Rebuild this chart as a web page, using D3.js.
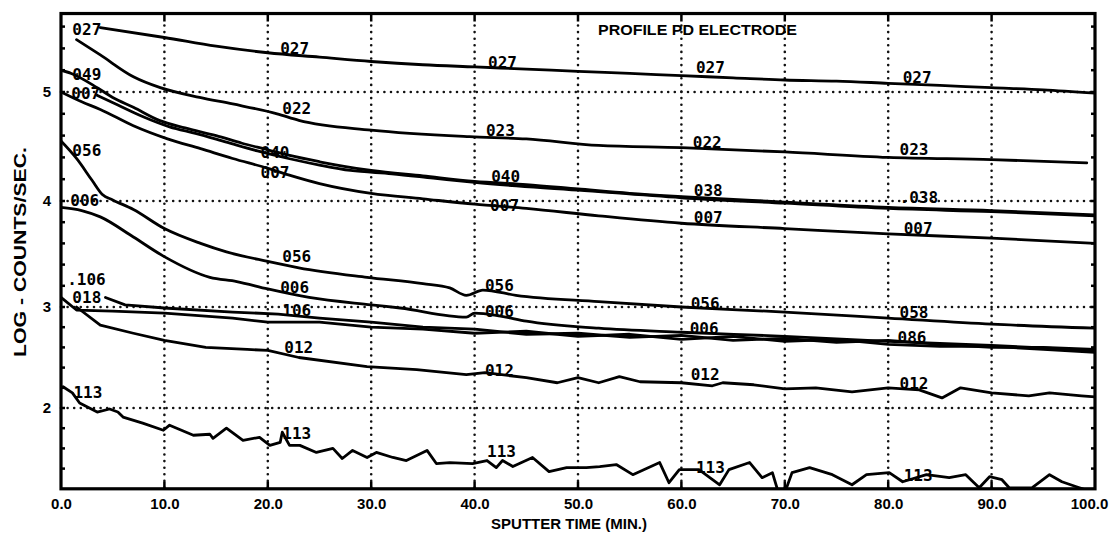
<!DOCTYPE html>
<html>
<head>
<meta charset="utf-8">
<script src="https://cdn.jsdelivr.net/npm/d3@7"></script>
<style>
body{margin:0;background:#fff}
svg{display:block}
</style>
</head>
<body>
<script>
// [sputter time (min), log counts/sec]
const s027=[[3.8,5.59],[10,5.50],[15,5.42],[20,5.36],[25,5.32],[30,5.28],[35,5.25],[40,5.23],[45,5.21],[50,5.19],[55,5.17],[60,5.15],[65,5.13],[70,5.11],[75,5.10],[80,5.08],[85,5.06],[90,5.04],[95,5.02],[100,4.99]]
const s023=[[1.5,5.48],[3.8,5.34],[7,5.14],[9.6,5.04],[13.4,4.95],[16.6,4.89],[20.9,4.80],[23,4.74],[30,4.65],[39.5,4.59],[45,4.57],[52,4.51],[60,4.49],[70,4.45],[80,4.40],[90,4.38],[99.2,4.35]]
const s040=[[0,5.20],[1,5.17],[3.5,5.04],[5,4.95],[7,4.86],[9.5,4.74],[12,4.67],[15,4.60],[17.5,4.53],[20,4.47],[22,4.42],[25,4.36],[30,4.28],[35,4.23],[40,4.18],[45,4.15],[50,4.11],[55,4.07],[60,4.04],[70,3.99],[80,3.94],[90,3.91],[100,3.87]]
const s038=[[3.5,4.97],[5.5,4.88],[8,4.77],[10.5,4.68],[13,4.62],[16,4.54],[19,4.46],[22,4.39],[25,4.33],[28,4.28],[32,4.25],[36,4.21],[40,4.17],[50,4.10],[60,4.03],[70,3.98],[80,3.93],[90,3.90],[100,3.86]]
const s007=[[0,5.00],[2,4.91],[3.8,4.84],[7,4.69],[10.3,4.57],[13.5,4.48],[16.6,4.39],[20,4.30],[22,4.24],[25,4.16],[30,4.07],[35,4.02],[40,3.97],[45,3.93],[52,3.86],[60,3.79],[70,3.74],[80,3.69],[90,3.65],[100,3.60]]
const s056=[[0,4.55],[1.5,4.39],[3,4.19],[4,4.06],[5,4.01],[7,3.92],[10,3.74],[13.5,3.60],[16,3.52],[20,3.43],[23,3.37],[29.6,3.28],[35,3.22],[37.6,3.18],[39.2,3.11],[40.8,3.16],[44,3.11],[52,3.05],[60,3.00],[70,2.95],[80,2.89],[90,2.83],[100,2.79]]
const s006=[[0,3.94],[2,3.91],[3.8,3.85],[7,3.66],[9.9,3.48],[14.4,3.28],[17,3.24],[20,3.17],[24,3.09],[30,3.02],[32.8,2.99],[39.2,2.90],[40,2.94],[42.5,2.91],[45,2.86],[52,2.79],[60,2.75],[70,2.71],[80,2.66],[90,2.62],[100,2.57]]
const s106=[[4.3,3.09],[6.2,3.02],[10,2.99],[16.6,2.95],[21,2.93],[25,2.89],[30,2.85],[35,2.80],[40,2.78],[45,2.73],[50,2.74],[55,2.70],[60,2.72],[65,2.67],[70,2.69],[75,2.65],[80,2.67],[85,2.63],[90,2.60],[95,2.60],[100,2.58]]
const s106b=[[0,3.09],[1.5,2.97],[5,2.96],[10,2.94],[16.6,2.89],[20,2.85],[25,2.85],[30,2.80],[35,2.78],[40,2.74],[45,2.76],[50,2.71],[55,2.73],[60,2.68],[65,2.71],[70,2.66],[75,2.68],[80,2.63],[85,2.61],[90,2.61],[95,2.58],[100,2.55]]
const s012=[[1.5,3.00],[3.8,2.82],[7,2.74],[10,2.67],[14,2.60],[18,2.58],[20,2.57],[23,2.50],[29.6,2.41],[34.4,2.38],[39.2,2.33],[41,2.35],[45,2.30],[48,2.25],[50,2.30],[52,2.25],[54,2.31],[56,2.26],[60,2.25],[63,2.22],[64,2.25],[67,2.23],[70,2.19],[73,2.20],[76.5,2.16],[80,2.20],[83,2.18],[85.2,2.10],[87,2.20],[90,2.15],[93.6,2.12],[95.6,2.15],[98.7,2.12],[100,2.11]]
const s113=[[0.2,2.21],[1.1,2.15],[1.8,2.05],[3.5,1.96],[4.7,1.99],[5.5,1.96],[6.0,1.91],[7.9,1.85],[9.9,1.78],[10.5,1.83],[12.8,1.73],[14.4,1.74],[14.7,1.70],[16.0,1.80],[17.6,1.68],[19.2,1.71],[20.2,1.63],[21.2,1.66],[21.4,1.76],[22.1,1.63],[23.1,1.63],[24.7,1.56],[26.3,1.60],[27.2,1.50],[28.2,1.58],[29.6,1.51],[30.5,1.56],[32.1,1.51],[33.4,1.48],[35.4,1.58],[36.3,1.45],[37.6,1.46],[39.8,1.45],[41.2,1.48],[42.1,1.41],[42.7,1.48],[43.7,1.42],[45.6,1.51],[47.2,1.37],[48.9,1.41],[50.8,1.41],[52.1,1.42],[53.7,1.44],[55.3,1.34],[57.9,1.46],[58.8,1.26],[59.8,1.39],[61.7,1.39],[63.7,1.24],[64.6,1.39],[66.6,1.46],[67.8,1.31],[68.8,1.36],[69.3,1.19],[70.1,1.19],[70.7,1.36],[72.4,1.41],[74.6,1.34],[76.5,1.24],[77.9,1.34],[80.1,1.36],[81.4,1.27],[83.7,1.34],[85.9,1.31],[87.5,1.34],[88.8,1.21],[89.8,1.32],[91.0,1.29],[91.7,1.21],[93.9,1.21],[95.6,1.34],[96.8,1.27],[98.2,1.22],[99.1,1.19]]

// mass labels written along the traces: [text, time, log counts]
const lineLabels=[
	["027",1.1,5.52],["049",1.1,5.11],["007",1.0,4.94],["056",1.1,4.41],["006",0.9,3.95],[".106",0.6,3.21],["018",1.1,3.04],["113",1.2,2.10],
	["027",21.2,5.35],["022",21.4,4.80],["040",19.3,4.39],["007",19.3,4.21],["056",21.4,3.42],["006",21.2,3.13],["106",21.4,2.91],["012",21.6,2.54],["113",21.4,1.69],
	["027",41.3,5.22],["023",41.1,4.60],["040",41.6,4.17],["007",41.5,3.91],["056",41.0,3.15],["006",41.0,2.90],["012",41.0,2.32],["113",41.2,1.51],
	["027",61.4,5.17],["022",61.1,4.49],["038",61.2,4.05],["007",61.2,3.79],["056",60.9,2.98],["006",60.8,2.73],["012",60.9,2.28],["113",61.4,1.36],
	["027",81.4,5.08],["023",81.1,4.42],[".038",81.1,3.98],["007",81.5,3.69],["058",81.1,2.89],["086",80.9,2.64],["012",81.1,2.19],["113",81.5,1.28]
]

const xTicks=[0,10,20,30,40,50,60,70,80,90,100]
const yTicks=[2,3,4,5]
const xMin=0,xMax=100,yMin=1.2,yMax=5.72

const width=1113,height=533
const axisFont='"Liberation Sans", Arial, sans-serif'

const svg=d3.select('body').append('svg')
	.attr('width',width)
	.attr('height',height)
	.style('background','#fff')

let x=d3.scaleLinear().domain([xMin,xMax]).range([61,1095])
// the chart's decades are not evenly spaced on the paper
let y=d3.scaleLinear().domain([2,3,4,5]).range([408,307,201,92])

const pTop=y(yMax),pBottom=y(yMin),pLeft=x(xMin),pRight=x(xMax)

svg.append('clipPath').attr('id','plot')
	.append('rect')
	.attr('x',pLeft).attr('y',pTop)
	.attr('width',pRight-pLeft).attr('height',pBottom-pTop)

// dotted grid
const grid=svg.append('g')
	.attr('stroke','#111')
	.attr('stroke-width',2.6)
	.attr('stroke-linecap','round')
	.attr('stroke-dasharray','0,6.6')
grid.selectAll('.vg')
	.data(xTicks.slice(1,-1))
	.join('line')
	.attr('x1',d=>x(d)).attr('x2',d=>x(d))
	.attr('y1',pTop+12).attr('y2',pBottom)
grid.selectAll('.hg')
	.data(yTicks)
	.join('line')
	.attr('x1',pLeft).attr('x2',pRight)
	.attr('y1',d=>y(d)).attr('y2',d=>y(d))

// small ticks on the frame
const ticks=svg.append('g').attr('stroke','#000').attr('stroke-width',2.5)
ticks.selectAll('.tt')
	.data(xTicks.slice(1,-1))
	.join('line')
	.attr('x1',d=>x(d)).attr('x2',d=>x(d))
	.attr('y1',pTop).attr('y2',pTop+8)
ticks.selectAll('.bt')
	.data(xTicks.slice(1,-1))
	.join('line')
	.attr('x1',d=>x(d)).attr('x2',d=>x(d))
	.attr('y1',pBottom).attr('y2',pBottom-7)
const minor=d3.range(1.4,5.7,0.2)
ticks.selectAll('.lt')
	.data(minor)
	.join('line')
	.attr('x1',pLeft).attr('x2',pLeft+4)
	.attr('y1',d=>y(d)).attr('y2',d=>y(d))
ticks.selectAll('.rt')
	.data(minor)
	.join('line')
	.attr('x1',pRight).attr('x2',pRight-4)
	.attr('y1',d=>y(d)).attr('y2',d=>y(d))

// traces
const smooth=d3.line().x(d=>x(d[0])).y(d=>y(d[1])).curve(d3.curveMonotoneX)
const rough=d3.line().x(d=>x(d[0])).y(d=>y(d[1]))

const series=[
	{pts:s027,line:smooth},{pts:s023,line:smooth},{pts:s040,line:smooth},{pts:s038,line:smooth},
	{pts:s007,line:smooth},{pts:s056,line:smooth},{pts:s006,line:smooth},{pts:s106,line:rough},
	{pts:s106b,line:rough},{pts:s012,line:rough},{pts:s113,line:rough}
]

svg.append('g')
	.attr('clip-path','url(#plot)')
	.attr('fill','none')
	.attr('stroke','#000')
	.attr('stroke-width',2.8)
	.attr('stroke-linejoin','round')
	.attr('stroke-linecap','round')
	.selectAll('path')
	.data(series)
	.join('path')
	.attr('d',d=>d.line(d.pts))

svg.append('g')
	.attr('font-family','"DejaVu Sans Mono", monospace')
	.attr('font-weight','bold')
	.attr('font-size',16)
	.attr('fill','#000')
	.selectAll('text')
	.data(lineLabels)
	.join('text')
	.attr('x',d=>x(d[1]))
	.attr('y',d=>y(d[2]))
	.text(d=>d[0])

// frame
svg.append('rect')
	.attr('x',pLeft).attr('y',pTop)
	.attr('width',pRight-pLeft).attr('height',pBottom-pTop)
	.attr('fill','none')
	.attr('stroke','#000')
	.attr('stroke-width',3.2)

let xAxis=d3.axisBottom(x)
	.tickValues(xTicks)
	.tickFormat(d3.format('.1f'))
	.tickSize(0)
	.tickPadding(10)
let yAxis=d3.axisLeft(y)
	.tickValues(yTicks)
	.tickFormat(d3.format('d'))
	.tickSize(0)
	.tickPadding(10)

svg.append('g')
	.attr('transform',`translate(0,${pBottom})`)
	.call(xAxis)
	.call(g=>g.select('.domain').remove())
	.selectAll('text')
	.attr('font-family',axisFont)
	.attr('font-weight','bold')
	.attr('font-size',15)
	.attr('fill','#000')
	.attr('dx',d=>d===xMax?-6:0)

svg.append('g')
	.attr('transform',`translate(${pLeft},0)`)
	.call(yAxis)
	.call(g=>g.select('.domain').remove())
	.selectAll('text')
	.attr('font-family',axisFont)
	.attr('font-weight','bold')
	.attr('font-size',15)
	.attr('fill','#000')

svg.append('text')
	.attr('x',569).attr('y',529)
	.attr('text-anchor','middle')
	.attr('font-family',axisFont)
	.attr('font-weight','bold')
	.attr('font-size',15)
	.text('SPUTTER TIME (MIN.)')

svg.append('text')
	.attr('transform','translate(26,252) rotate(-90)')
	.attr('text-anchor','middle')
	.attr('font-family',axisFont)
	.attr('font-weight','bold')
	.attr('font-size',16.5)
	.attr('textLength',210)
	.attr('lengthAdjust','spacingAndGlyphs')
	.text('LOG - COUNTS/SEC.')

svg.append('text')
	.attr('x',598).attr('y',35)
	.attr('font-family',axisFont)
	.attr('font-weight','bold')
	.attr('font-size',15.5)
	.attr('textLength',199)
	.attr('lengthAdjust','spacingAndGlyphs')
	.text('PROFILE PD ELECTRODE')
</script>
</body>
</html>
